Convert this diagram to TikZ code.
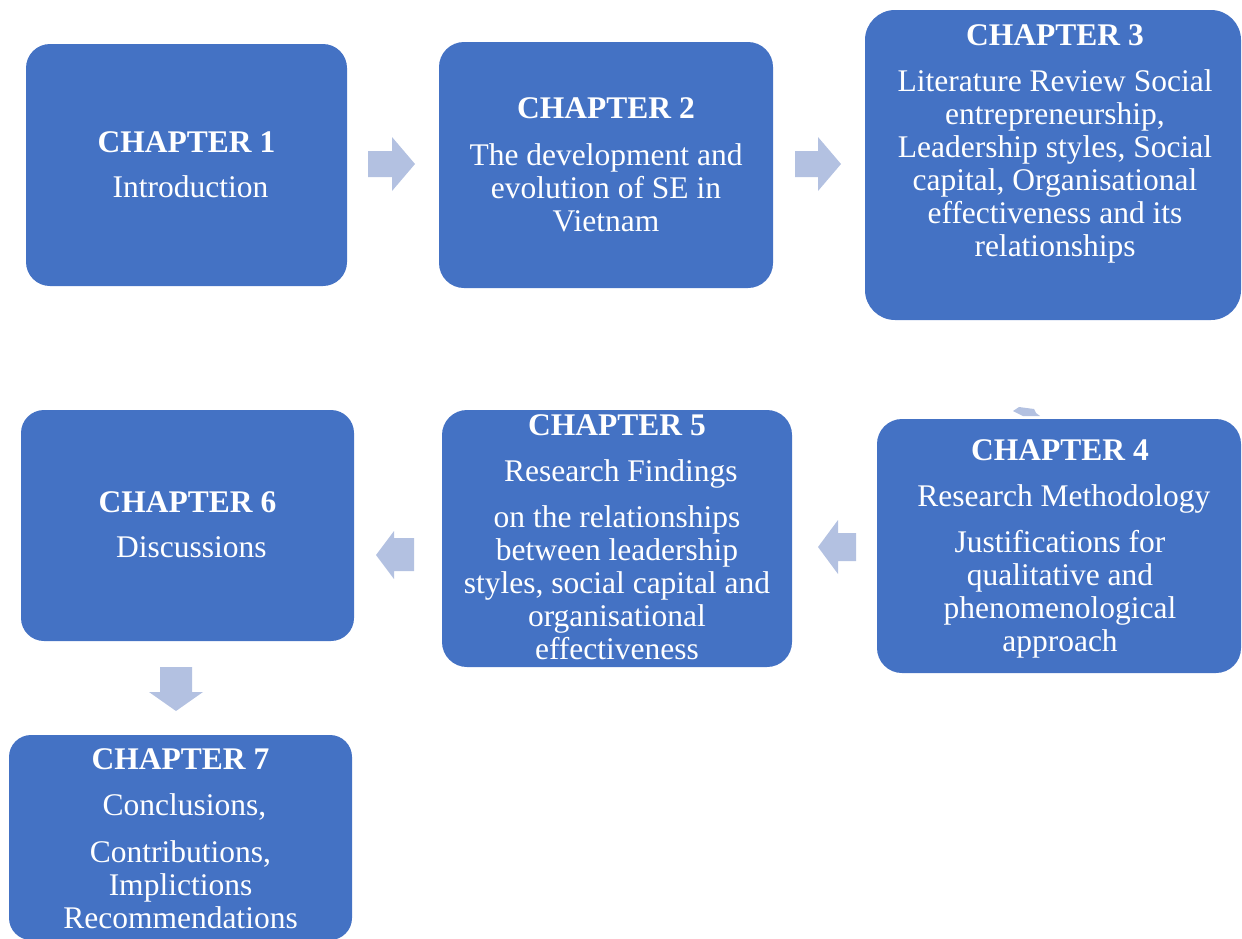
\documentclass[tikz,border=0pt]{standalone}
\usepackage{fontspec}
\setmainfont{Liberation Serif}
\definecolor{boxblue}{HTML}{4472C4}
\definecolor{arrowblue}{HTML}{B3C1E1}
\tikzset{
  chapbox/.style={rectangle, fill=boxblue, draw=none, inner sep=0pt, outer sep=0pt},
  chaptext/.style={text=white, align=center, inner sep=0pt, anchor=north,
                   font=\fontsize{31.5}{33}\selectfont},
  blockarrow/.style={fill=arrowblue, draw=none}
}
\begin{document}
\begin{tikzpicture}[x=1pt,y=-1pt]
\useasboundingbox (0,0) rectangle (1242,938);

% chapter boxes
\node[chapbox, rounded corners=24pt, minimum width=321pt, minimum height=242pt] (c1) at (186.5,165) {};
\node[chapbox, rounded corners=25pt, minimum width=334pt, minimum height=246pt] (c2) at (606,165) {};
\node[chapbox, rounded corners=30pt, minimum width=376pt, minimum height=310pt] (c3) at (1053,165) {};
\node[chapbox, rounded corners=25pt, minimum width=364pt, minimum height=254pt] (c4) at (1059,546) {};
\node[chapbox, rounded corners=25pt, minimum width=350pt, minimum height=257pt] (c5) at (617,538.5) {};
\node[chapbox, rounded corners=23pt, minimum width=333pt, minimum height=231pt] (c6) at (187.5,525.5) {};
\node[chapbox, rounded corners=22pt, minimum width=343pt, minimum height=205pt] (c7) at (180.5,837.5) {};

% chapter texts
\node[chaptext] (t1) at (186.5,131.7) {\textbf{CHAPTER 1}\\[12pt] \hspace*{0.25em}Introduction};
\node[chaptext] (t2) at (606,97.7) {\textbf{CHAPTER 2}\\[14pt] The development and\\ evolution of SE in\\ Vietnam};
\node[chaptext] (t3) at (1055,24.7) {\textbf{CHAPTER 3}\\[13pt] Literature Review Social\\ entrepreneurship,\\ Leadership styles, Social\\ capital, Organisational\\ effectiveness and its\\ relationships};
\node[chaptext] (t4) at (1060,439.7) {\textbf{CHAPTER 4}\\[13pt] \hspace*{0.25em}Research Methodology\\[13pt] Justifications for\\ qualitative and\\ phenomenological\\ approach};
\node[chaptext] (t5) at (617,414.7) {\textbf{CHAPTER 5}\\[13pt] \hspace*{0.25em}Research Findings\\[13pt] on the relationships\\ between leadership\\ styles, social capital and\\ organisational\\ effectiveness};
\node[chaptext] (t6) at (187.5,491.7) {\textbf{CHAPTER 6}\\[12pt] \hspace*{0.25em}Discussions};
\node[chaptext] (t7) at (180.5,748.7) {\textbf{CHAPTER 7}\\[13pt] \hspace*{0.25em}Conclusions,\\[14pt] Contributions,\\ Implictions\\ Recommendations};

% block arrows between the chapters
\fill[blockarrow] (368,151) -- (392,151) -- (392,137) -- (415,164) -- (392,191) -- (392,177) -- (368,177) -- cycle;
\fill[blockarrow] (795,151) -- (818,151) -- (818,137) -- (841,164) -- (818,191) -- (818,177) -- (795,177) -- cycle;
\fill[blockarrow] (1013,411) -- (1019,407) -- (1034,409) -- (1036,413) -- (1040,416) -- (1023,416) -- cycle;
\fill[blockarrow] (856,533) -- (838,533) -- (838,520) -- (818,547) -- (838,574) -- (838,561) -- (856,561) -- cycle;
\fill[blockarrow] (414,538) -- (394,538) -- (394,531) -- (376,555) -- (394,579) -- (394,571) -- (414,571) -- cycle;
\fill[blockarrow] (160,667) -- (192,667) -- (192,692) -- (203,692) -- (176,711) -- (149,692) -- (160,692) -- cycle;
\end{tikzpicture}
\end{document}
